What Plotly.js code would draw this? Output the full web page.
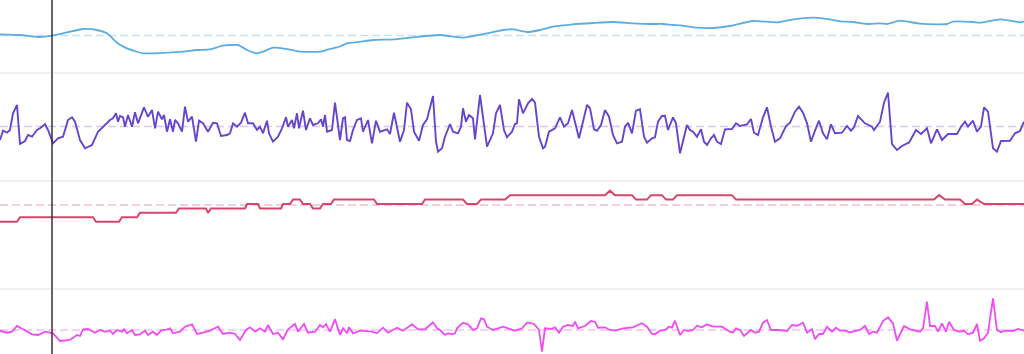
<!DOCTYPE html>
<html>
<head>
<meta charset="utf-8">
<script src="https://cdn.plot.ly/plotly-3.0.1.min.js"></script>
<style>
  html, body { margin: 0; padding: 0; background: #ffffff; }
  #chart { width: 1024px; height: 354px; }
</style>
</head>
<body>
<div id="chart"></div>
<script>
// ---- Data (deviation from each panel's reference level) ----
const blueT = [0,20,38,52,63,83,97,107,117,127,
  143,167,183,197,210,223,238,247,257,263,
  273,283,300,320,333,340,347,360,373,393,
  413,440,453,463,473,487,503,513,528,540,
  553,573,593,613,633,650,663,673,680,697,
  713,730,753,777,793,813,823,840,853,867,
  880,887,900,920,940,947,953,973,980,1000,
  1010,1020,1024];
const blueV = [1.2,0.5,-1.5,-0.2,2.2,6.5,5.5,2.2,-7.2,-12.8,
  -17.8,-17.2,-16.2,-14.5,-13.8,-10.2,-9.5,-14.5,-17.8,-16.2,
  -12.2,-12.8,-16.2,-16.2,-12.8,-11,-7.8,-6.2,-4.5,-3.8,
  -1.8,0.5,-1.2,-2.2,-0.5,2.2,5.5,6.2,3.5,5.5,
  8.8,11.2,12.5,13.5,12.2,11.5,11.5,10.5,10.2,7.8,
  7.5,9.5,14.5,13.2,16.2,17.8,17.2,14.2,13.5,11.5,
  12.2,11.5,14.8,11.8,11.2,11.5,13.8,13.5,12.8,16.2,
  14.8,13.2,14];

const purpleT = [0,3,7,10,13,17,20,25,28,32,
  37,40,45,48,53,58,63,68,72,75,
  80,85,92,98,105,110,113,116,118,120,
  123,125,128,132,135,138,144,148,152,155,
  158,162,164,167,170,173,175,178,182,185,
  188,192,196,199,203,208,213,217,221,227,
  230,233,237,241,245,248,253,257,260,263,
  267,269,273,278,282,286,288,292,294,297,
  299,303,306,310,313,318,321,323,325,327,
  332,335,340,343,345,347,350,353,357,361,
  363,368,372,376,380,387,390,394,400,404,
  407,411,414,419,423,427,433,436,438,442,
  445,450,453,458,461,463,466,469,473,475,
  480,487,493,496,500,504,507,512,515,517,
  519,523,528,532,535,539,543,545,549,555,
  560,564,568,572,579,587,590,594,597,601,
  605,609,613,617,622,625,628,632,636,640,
  644,647,652,655,658,662,665,668,673,676,
  680,687,690,693,697,701,704,707,711,714,
  717,721,725,732,736,740,747,751,754,758,
  763,767,771,775,780,786,790,795,799,803,
  807,811,815,819,823,827,831,835,842,847,
  851,854,858,865,872,874,880,884,888,892,
  897,902,907,909,916,921,927,931,937,942,
  948,957,961,965,968,973,977,981,984,988,
  993,997,1001,1010,1015,1020,1024];
const purpleV = [-13.5,-4.2,-6.2,-3.5,13.2,21.5,-17.5,-14.5,-8.5,-10.2,
  -3.5,-1.8,2.2,-3.5,-16.8,-11.8,-10.2,6.5,9.2,4.8,
  -13.5,-21.8,-18.5,-5.2,1.5,6.5,8.2,13.2,4.8,10.5,
  9.2,-0.2,11.5,-0.2,14.2,3.2,19.2,9.8,16.5,-1.8,
  14.8,7.2,11.5,-5.2,7.2,-5.2,6.5,3.2,-5.2,19.8,
  4.8,9.8,-15.2,5.8,3.2,-5.2,3.8,3.2,-9.5,-8.5,
  -6.8,3.2,-0.2,3.8,13.8,3.2,3.2,-3.5,-0.2,-6.8,
  5.8,-6.8,-15.2,-10.2,-1.8,9.2,-0.2,6.5,-1.8,13.2,
  -1.8,15.8,-3.5,8.2,1.5,3.2,7.2,-0.2,11.5,-5.2,
  -3.5,23.8,-13.5,8.2,9.2,-13.5,-14.5,-3.5,6.5,8.2,
  -5.2,6.5,-16.8,5.8,-5.2,-2.8,-7.5,13.8,-15.2,-3.5,
  23.8,17.2,-5.2,-14.2,1.5,7.2,30.5,-15.2,-25.2,-21.8,
  -10.2,2.5,-5.2,-6.8,-0.2,18.2,4.8,11.5,8.2,-12.8,
  31.5,-20.2,-6.8,13.2,21.5,-3.5,-10.8,-5.2,2.5,3.2,
  27.2,13.2,23.2,27.5,23.8,-10.2,-21.8,-20.2,-5.2,-1.8,
  9.2,-0.2,3.2,16.5,-11.8,21.5,18.2,-2.8,-4.2,1.5,
  16.5,9.8,-8.5,-16.8,-15.2,-0.2,3.8,-6.8,15.8,17.2,
  -10.2,-16.2,-11.8,-10.8,4.8,10.5,10.8,-3.5,9.2,3.2,
  -26.8,1.5,-3.5,-5.2,-10.2,-2.8,-15.2,-18.5,-11.8,-8.5,
  -15.2,-17.5,-2.8,-2.5,3.2,0.5,2.2,7.5,-6.2,-8.5,
  9.2,19.2,-0.2,-15.2,-11.8,0.5,3.8,14.8,19.8,13.8,
  3.2,-15.2,-4.2,5.8,-6.8,-12.8,2.2,-6.8,-6.2,0.5,
  -4.2,-0.8,10.5,3.2,-0.2,-3.5,4.8,23.8,33.8,-17.5,
  -23.5,-19.5,-16.8,-16.2,-3.5,-7.5,-1.8,-16.8,-2.8,-13.5,
  -7.5,-7.5,-0.2,4.8,-0.2,5.8,-5.2,-0.2,19.2,14.8,
  -21.8,-25.2,-14.5,-14.2,-6.8,-4.5,4.8];

const redT = [0,17,20,93,96,119,122,137,140,176,
  179,206,208,211,245,247,258,260,281,283,
  290,293,300,303,310,313,320,323,331,334,
  374,377,422,425,463,467,477,481,505,510,
  605,610,615,632,636,647,651,662,666,673,
  677,732,736,934,939,945,960,965,972,977,
  984,1024];
const redLevel = [-4,-4,-3,-3,-4,-4,-3,-3,-2,-2,
  -1,-1,-2,-1,-1,0,0,-1,-1,0,
  0,1,1,0,0,-1,-1,0,0,1,
  1,0,0,1,1,0,0,1,1,2,
  2,3,2,2,1,1,2,2,1,1,
  2,2,1,1,2,1,1,0,0,1,
  0,0];

const magentaT = [0,7,12,17,23,32,38,45,50,53,
  60,67,70,77,80,83,88,95,100,105,
  110,113,117,122,124,127,132,135,140,145,
  148,153,157,161,165,170,173,180,185,192,
  197,203,210,218,223,230,235,240,246,250,
  255,260,265,268,273,278,283,288,295,298,
  304,308,315,320,323,326,330,335,340,343,
  347,349,353,360,367,372,377,383,388,397,
  403,412,418,425,433,437,440,445,448,452,
  455,457,463,468,473,477,481,484,487,493,
  503,508,515,522,527,532,535,539,542,545,
  551,555,559,563,568,573,575,578,585,591,
  595,598,605,610,615,623,633,642,647,652,
  655,660,665,669,672,675,680,684,688,693,
  697,702,707,713,722,730,733,736,740,744,
  751,755,759,763,767,771,778,787,792,797,
  803,807,812,815,819,823,827,832,836,840,
  845,850,860,865,869,873,877,883,888,893,
  897,904,910,920,923,927,930,935,938,942,
  946,949,954,960,964,968,973,977,980,984,
  988,993,997,1001,1005,1013,1018,1024];
const magentaV = [-0.7,-2.7,-1.7,4,0.7,-4.3,-5,-1.7,-2.7,-3.3,
  -11,-10.7,-10,-5,-6,0.7,1,-2.7,0,-1.7,
  -0.7,-4,0,-1.7,0.7,-3.3,0,-5,-4.3,-0.7,
  -5,-1.7,-5,-0.7,0,1.7,-3.3,-1.7,3.3,5.7,
  -4,-2.7,-0.7,3.3,-4,-2.7,-4,-10,0,2.7,
  -1.7,1.7,-1.7,5,-4,-2.7,-9.3,0.7,6,-1.7,
  6,-2.7,-1.7,5,2.7,6,-1.7,10.7,-5,1.7,
  -3.3,2.7,-3.3,-0.7,-1,-1.7,-3.3,2.3,-2.7,2.3,
  -0.7,5.7,0.7,0.7,7.7,1.7,0,-5,-3.3,-4.3,
  -3.3,1.7,7.3,5.7,0,1.7,11.7,10.7,3.3,0,
  3.3,1.7,-0.7,1.7,7.3,6.7,5,0,-21.7,1.7,
  1,2.7,-2.7,3.3,5,4,8.3,1.7,4,9,
  8.3,2.3,2.7,0,-0.7,1.7,2.7,6.7,3.3,-4,
  -4.3,-0.7,0,3.3,2.3,9.3,-5,0,-1,0,
  4.3,2.7,5.7,3.3,3.3,-1.7,-2.7,1.7,0,-6,
  0,-2.7,-1.7,7.3,10,0,0,-1,5,4.3,
  7.3,-2.7,0.7,-9.3,-4,-4,3.3,-1.7,2.3,-0.7,
  -0.7,-2.3,0,4,-4,-1.7,-2.7,9,12.7,6.7,
  -10.7,4,0.7,-1.7,1.7,28.3,4,4,-1.7,6.7,
  -1.7,8.3,0,-1.7,-0.7,-4.3,-2.7,6,-10.7,-8.3,
  -2.7,31.7,0,-2.3,-0.7,-1,1,-0.7];

// reference (dashed) level of each panel
const refLevels = [0, 0, -0.23, 0];
const cursorT = 52;

// ---- Styling ----
const colors = ['#5dade2', '#6646cf', '#d8456b', '#ee4cf2'];
const refColors = ['rgba(93,173,226,0.35)', 'rgba(102,70,207,0.28)', 'rgba(216,69,107,0.35)', 'rgba(238,76,242,0.35)'];
const H = 354;
const bounds = [73, 181, 289];
const d = v => 1 - v / H;
const domains = [[d(73), 1], [d(181), d(73)], [d(289), d(181)], [0, d(289)]];
const ranges = [[-37.5, 35.5], [-54.5, 53.5], [-19.19, 5.19], [-24, 41]];

const series = [
  {x: blueT, y: blueV, shape: 'spline'},
  {x: purpleT, y: purpleV, shape: 'linear'},
  {x: redT, y: redLevel, shape: 'linear'},
  {x: magentaT, y: magentaV, shape: 'linear'}
];
const widths = [1.8, 1.9, 2, 1.8];

const traces = series.map((s, i) => ({
  type: 'scatter', mode: 'lines',
  x: s.x, y: s.y,
  xaxis: 'x', yaxis: i === 0 ? 'y' : 'y' + (i + 1),
  line: {color: colors[i], width: widths[i], shape: s.shape, smoothing: 0.5},
  hoverinfo: 'skip'
}));

const layout = {
  width: 1024, height: 354,
  margin: {l: 0, r: 0, t: 0, b: 0, pad: 0},
  paper_bgcolor: '#ffffff', plot_bgcolor: '#ffffff',
  showlegend: false,
  xaxis: {range: [0, 1024], visible: false, anchor: 'y4', fixedrange: true},
  shapes: []
};
for (let i = 0; i < 4; i++) {
  const key = i === 0 ? 'yaxis' : 'yaxis' + (i + 1);
  layout[key] = {domain: domains[i], range: ranges[i], visible: false, anchor: 'x', fixedrange: true};
  layout.shapes.push({
    type: 'line', xref: 'paper', x0: 0, x1: 1,
    yref: i === 0 ? 'y' : 'y' + (i + 1), y0: refLevels[i], y1: refLevels[i],
    line: {color: refColors[i], width: 1.4, dash: '8px,4px'}, layer: 'below'
  });
}
bounds.forEach(b => {
  layout.shapes.push({
    type: 'line', xref: 'paper', x0: 0, x1: 1, yref: 'paper', y0: d(b), y1: d(b),
    line: {color: '#ebebeb', width: 1.5}, layer: 'below'
  });
});
layout.shapes.push({
  type: 'line', xref: 'x', x0: cursorT, x1: cursorT, yref: 'paper', y0: 0, y1: 1,
  line: {color: '#333333', width: 1.5}, layer: 'above'
});

Plotly.newPlot('chart', traces, layout, {staticPlot: true, displayModeBar: false, responsive: false});
</script>
</body>
</html>
